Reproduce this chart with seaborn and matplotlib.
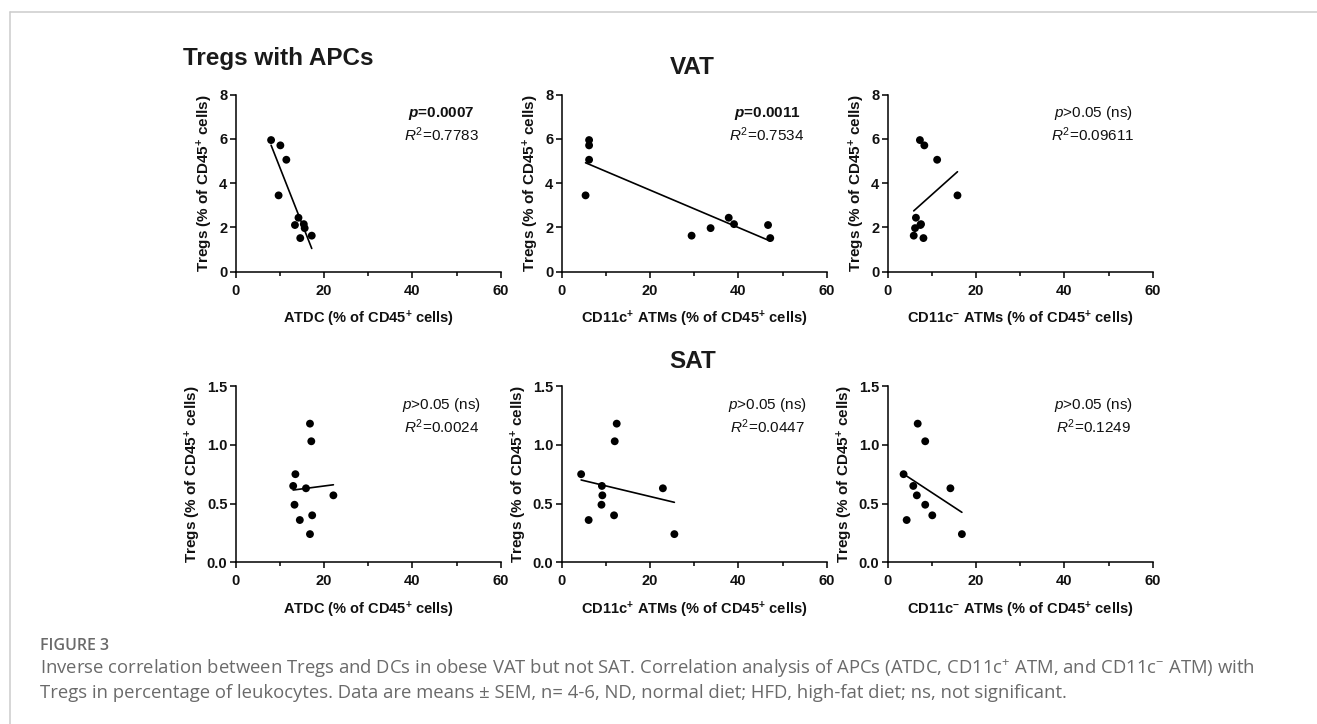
import numpy as np
import matplotlib
matplotlib.use("Agg")
import matplotlib.pyplot as plt
import matplotlib.ticker as mticker
from matplotlib.lines import Line2D
import seaborn as sns

# Tregs (% of CD45+ cells), one value per mouse
vat_tregs = [5.95, 5.71, 5.06, 3.45, 2.44, 2.15, 2.11, 1.97, 1.63, 1.52]
sat_tregs = [1.18, 1.03, 0.75, 0.65, 0.63, 0.57, 0.49, 0.40, 0.36, 0.24]

# APC populations, same mouse order as the Tregs lists
vat_atdc = [8.0, 10.1, 11.45, 9.7, 14.2, 15.4, 13.4, 15.6, 17.2, 14.6]
vat_cd11c_pos = [6.2, 6.2, 6.2, 5.4, 37.8, 39.0, 46.7, 33.7, 29.4, 47.2]
vat_cd11c_neg = [7.3, 8.3, 11.2, 15.8, 6.4, 7.55, 7.4, 6.2, 5.9, 8.1]
sat_atdc = [16.8, 17.1, 13.5, 13.0, 15.9, 22.1, 13.3, 17.3, 14.5, 16.8]
sat_cd11c_pos = [12.45, 12.0, 4.4, 9.1, 22.9, 9.2, 9.0, 11.85, 6.1, 25.5]
sat_cd11c_neg = [6.8, 8.5, 3.6, 5.8, 14.2, 6.6, 8.5, 10.1, 4.3, 16.8]

x_labels = [r"ATDC (% of CD45$^{\mathbf{+}}$ cells)",
            r"CD11c$^{\mathbf{+}}$ ATMs (% of CD45$^{\mathbf{+}}$ cells)",
            r"CD11c$^{\mathbf{-}}$ ATMs (% of CD45$^{\mathbf{+}}$ cells)"]
y_label = r"Tregs (% of CD45$^{\mathbf{+}}$ cells)"

vat_p = [r"$\mathbfit{p}$=0.0007", r"$\mathbfit{p}$=0.0011", r"$\mathit{p}$>0.05 (ns)"]
vat_p_bold = [True, True, False]
vat_r2 = [r"$\mathit{R}^{2}$=0.7783", r"$\mathit{R}^{2}$=0.7534", r"$\mathit{R}^{2}$=0.09611"]
sat_p = [r"$\mathit{p}$>0.05 (ns)"] * 3
sat_p_bold = [False, False, False]
sat_r2 = [r"$\mathit{R}^{2}$=0.0024", r"$\mathit{R}^{2}$=0.0447", r"$\mathit{R}^{2}$=0.1249"]

vat_yticks = [0, 2, 4, 6, 8]
sat_yticks = [0.0, 0.5, 1.0, 1.5]
x_ticks = [0, 20, 40, 60]

sns.set_theme(style="ticks")
plt.rcParams["font.family"] = ["Liberation Sans", "DejaVu Sans"]
plt.rcParams.update({
    "mathtext.fontset": "custom",
    "mathtext.rm": "Liberation Sans",
    "mathtext.it": "Liberation Sans:italic",
    "mathtext.bf": "Liberation Sans:bold",
    "mathtext.bfit": "Liberation Sans:italic:bold",
    "mathtext.default": "regular",
})

fig = plt.figure(figsize=(13.17, 7.24), dpi=100)
fig.patch.set_facecolor("white")

lefts = [0.179, 0.4265, 0.674]
width = 0.2013
rows = [
    dict(bottom=0.6247, height=0.2445, y=vat_tregs,
         xs=[vat_atdc, vat_cd11c_pos, vat_cd11c_neg],
         p=vat_p, pb=vat_p_bold, r2=vat_r2, yticks=vat_yticks, fmt="{:d}"),
    dict(bottom=0.2233, height=0.2435, y=sat_tregs,
         xs=[sat_atdc, sat_cd11c_pos, sat_cd11c_neg],
         p=sat_p, pb=sat_p_bold, r2=sat_r2, yticks=sat_yticks, fmt="{:.1f}"),
]

for row in rows:
    for i, left in enumerate(lefts):
        ax = fig.add_axes([left, row["bottom"], width, row["height"]])
        sns.regplot(x=np.array(row["xs"][i]), y=np.array(row["y"]), ax=ax,
                    ci=None, color="black",
                    scatter_kws={"s": 32, "edgecolor": "none", "alpha": 1},
                    line_kws={"lw": 1.2, "color": "black"})
        ax.set_xlim(0, 60)
        ax.set_ylim(row["yticks"][0], row["yticks"][-1])
        ax.set_xticks(x_ticks)
        ax.set_xticklabels([str(t) for t in x_ticks], fontweight="bold",
                           fontsize=10.5, color="#111111")
        ax.xaxis.set_minor_locator(mticker.MultipleLocator(10))
        ax.set_yticks(row["yticks"])
        ax.set_yticklabels([row["fmt"].format(t) for t in row["yticks"]],
                           fontweight="bold", fontsize=10.5, color="#111111")
        ax.tick_params(axis="both", which="major", direction="out",
                       length=4.5, width=1.1, color="black", pad=1.5)
        ax.tick_params(axis="x", which="minor", direction="out",
                       length=3, width=1.1, color="black")
        ax.tick_params(axis="x", which="major", pad=4)
        for side in ["left", "bottom"]:
            ax.spines[side].set_linewidth(1.1)
            ax.spines[side].set_color("black")
        ax.spines[["top", "right"]].set_visible(False)
        ax.patch.set_alpha(0)
        ax.set_xlabel(x_labels[i], fontsize=10.5, fontweight="bold",
                      color="#111111", labelpad=8)
        ax.set_ylabel(y_label, fontsize=11, fontweight="bold",
                      color="#111111", labelpad=3)
        ax.text(0.775, 0.895, row["p"][i], transform=ax.transAxes,
                ha="center", va="center", fontsize=11,
                fontweight="bold" if row["pb"][i] else "normal",
                color="#111111")
        ax.text(0.775, 0.772, row["r2"][i], transform=ax.transAxes,
                ha="center", va="center", fontsize=11, color="#111111")

fig.text(0.139, 0.91, "Tregs with APCs", fontsize=17.5, fontweight="bold",
         color="#1a1a1a", ha="left", va="baseline")
fig.text(0.526, 0.907, "VAT", fontsize=17.5, fontweight="bold",
         color="#1a1a1a", ha="center", va="center")
fig.text(0.526, 0.501, "SAT", fontsize=17.5, fontweight="bold",
         color="#1a1a1a", ha="center", va="center")

# caption
cap_font = ["Open Sans", "DejaVu Sans"]
fig.text(0.0304, 1 - 646 / 724, "FIGURE 3", fontsize=11.5, fontweight="semibold",
         color="#6a6a6a", family=cap_font, ha="left", va="center")
fig.text(0.0304, 1 - 669 / 724,
         r"Inverse correlation between Tregs and DCs in obese VAT but not SAT. "
         r"Correlation analysis of APCs (ATDC, CD11c$^{+}$ ATM, and CD11c$^{-}$ ATM) with",
         fontsize=13.3, color="#6a6a6a", family=cap_font, ha="left", va="center")
fig.text(0.0304, 1 - 693 / 724,
         "Tregs in percentage of leukocytes. Data are means \u00b1 SEM, n= 4-6, ND, "
         "normal diet; HFD, high-fat diet; ns, not significant.",
         fontsize=13.3, color="#6a6a6a", family=cap_font, ha="left", va="center")

# frame lines at top and left
fig.add_artist(Line2D([9.5 / 1317, 1], [1 - 11.5 / 724, 1 - 11.5 / 724],
                      transform=fig.transFigure, color="#cccccc", lw=1.1))
fig.add_artist(Line2D([9.5 / 1317, 9.5 / 1317], [0, 1 - 11.5 / 724],
                      transform=fig.transFigure, color="#cccccc", lw=1.1))

fig.savefig("out.png", dpi=100, facecolor="white")
